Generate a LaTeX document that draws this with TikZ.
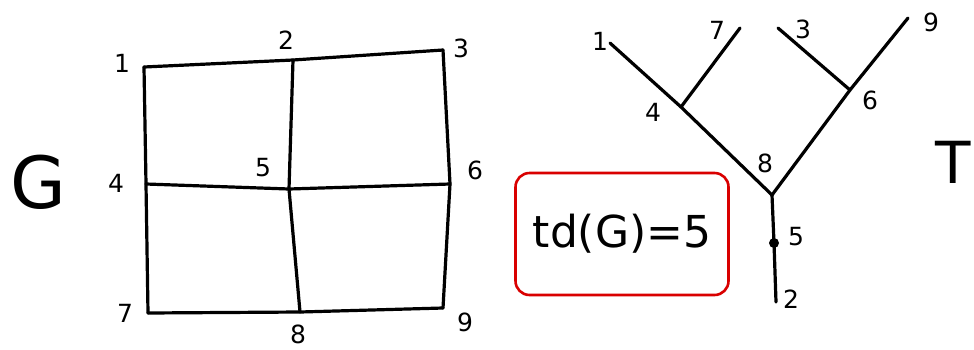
\documentclass[tikz,border=0pt]{standalone}
\usepackage{fontspec}
\setmainfont{DejaVu Sans}
\begin{document}
\begin{tikzpicture}[x=1pt,y=-1pt,
  edge/.style={line width=3.2pt,line cap=round,line join=round},
  lbl/.style={font=\fontsize{25}{25}\selectfont,inner sep=0pt},
  redbox/.style={draw=red!85!black,line width=2.6pt,rounded corners=14pt}]
\useasboundingbox[fill=white] (0,0) rectangle (974,349);
% graph G
\coordinate (g1) at (144,67);
\coordinate (g2) at (293,60);
\coordinate (g3) at (443,50);
\coordinate (g4) at (146,184);
\coordinate (g5) at (289,189);
\coordinate (g6) at (450,184);
\coordinate (g7) at (148,313);
\coordinate (g8) at (300,312);
\coordinate (g9) at (443,308);
\draw[edge] (g1) -- (g2) -- (g3);
\draw[edge] (g4) -- (g5) -- (g6);
\draw[edge] (g7) -- (g8) -- (g9);
\draw[edge] (g1) -- (g4) -- (g7);
\draw[edge] (g2) -- (g5) -- (g8);
\draw[edge] (g3) -- (g6) -- (g9);
\node[lbl] (l1) at (122,63) {1};
\node[lbl] (l2) at (286,40) {2};
\node[lbl] (l3) at (461,48) {3};
\node[lbl] (l4) at (116,183) {4};
\node[lbl] (l5) at (263,168) {5};
\node[lbl] (l6) at (475,170) {6};
\node[lbl] (l7) at (125,313) {7};
\node[lbl] (l8) at (298,334) {8};
\node[lbl] (l9) at (465,322) {9};
\node[inner sep=0pt,font=\fontsize{72}{72}\selectfont] (G) at (38,182) {G};
% tree T
\coordinate (t1) at (610,43);
\coordinate (t4) at (681,107);
\coordinate (t7) at (740,28);
\coordinate (t3) at (778,28);
\coordinate (t6) at (850,90);
\coordinate (t9) at (908,18);
\coordinate (t8) at (772,195);
\coordinate (t5) at (774,243);
\coordinate (t2) at (776,302);
\draw[edge] (t1) -- (t4) -- (t8);
\draw[edge] (t4) -- (t7);
\draw[edge] (t3) -- (t6);
\draw[edge] (t9) -- (t6) -- (t8);
\draw[edge] (t8) -- (t5) -- (t2);
\fill (t5) circle (5pt);
\node[lbl] (m1) at (600,41) {1};
\node[lbl] (m7) at (717,30) {7};
\node[lbl] (m3) at (803,29) {3};
\node[lbl] (m9) at (931,22) {9};
\node[lbl] (m4) at (653,112) {4};
\node[lbl] (m6) at (870,100) {6};
\node[lbl] (m8) at (765,163) {8};
\node[lbl] (m5) at (796,237) {5};
\node[lbl] (m2) at (791,299) {2};
\node[inner sep=0pt,font=\fontsize{58}{58}\selectfont] (T) at (953,162) {T};
% red box
\node[redbox,minimum width=213pt,minimum height=122pt,font=\fontsize{44}{44}\selectfont] (td) at (622,234) {td(G)=5};
\end{tikzpicture}
\end{document}
